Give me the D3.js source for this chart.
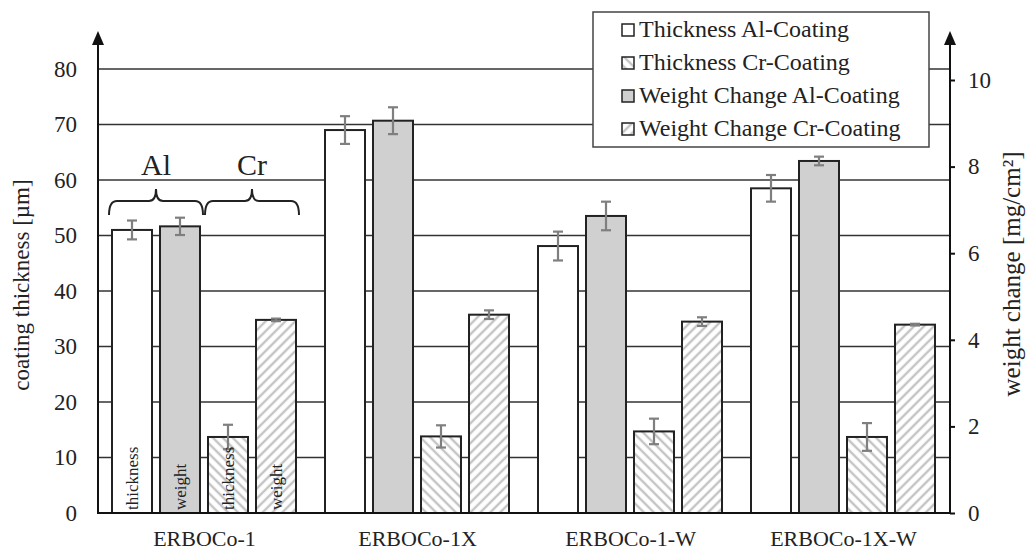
<!DOCTYPE html>
<html>
<head>
<meta charset="utf-8">
<script src="https://cdn.jsdelivr.net/npm/d3@7"></script>
<style>
  body { margin: 0; background: #fff; }
  text { font-family: "Liberation Serif", "Times New Roman", serif; fill: #222; }
</style>
</head>
<body>
<script>
// categories and series
const groups = ["ERBOCo-1", "ERBOCo-1X", "ERBOCo-1-W", "ERBOCo-1X-W"];
const seriesKeys = ["thickAl", "weightAl", "thickCr", "weightCr"];
const seriesNames = ["Thickness Al-Coating", "Thickness Cr-Coating", "Weight Change Al-Coating", "Weight Change Cr-Coating"];
const legendKeys = ["thickAl", "thickCr", "weightAl", "weightCr"];
const barLabels = ["thickness", "weight", "thickness", "weight"];
// coating thickness [µm] (left axis)
const thickAl = [51, 69, 48.1, 58.5];
const thickAlErr = [1.7, 2.5, 2.6, 2.4];
const thickCr = [13.7, 13.8, 14.7, 13.7];
const thickCrErr = [2.2, 2.0, 2.3, 2.5];
// weight change [mg/cm2] (right axis)
const weightAl = [6.62, 9.06, 6.86, 8.13];
const weightAlErr = [0.2, 0.31, 0.33, 0.1];
const weightCr = [4.46, 4.58, 4.42, 4.35];
const weightCrErr = [0.03, 0.1, 0.1, 0.02];
const leftTicks = [0, 10, 20, 30, 40, 50, 60, 70, 80];
const rightTicks = [0, 2, 4, 6, 8, 10];

const values = { thickAl, weightAl, thickCr, weightCr };
const errors = { thickAl: thickAlErr, weightAl: weightAlErr, thickCr: thickCrErr, weightCr: weightCrErr };

const width = 1031, height = 552;
const x0 = 98, x1 = 950, yBase = 513;

const svg = d3.select("body").append("svg")
    .attr("width", width)
    .attr("height", height);

// hatch patterns
const defs = svg.append("defs");
function hatch(id, angle) {
  const p = defs.append("pattern")
      .attr("id", id)
      .attr("patternUnits", "userSpaceOnUse")
      .attr("width", 7).attr("height", 7)
      .attr("patternTransform", "rotate(" + angle + ")");
  p.append("rect").attr("width", 7).attr("height", 7).attr("fill", "#fff");
  p.append("line").attr("x1", 2).attr("x2", 2).attr("y1", 0).attr("y2", 7)
      .attr("stroke", "#c4c4c4").attr("stroke-width", 2.4);
}
hatch("hatchBack", -45);
hatch("hatchFwd", 45);

const fills = { thickAl: "#fff", weightAl: "#cfd0cf", thickCr: "url(#hatchBack)", weightCr: "url(#hatchFwd)" };

const x = d3.scaleBand().domain(groups).range([x0, x1]);
const xInner = d3.scaleBand().domain(seriesKeys).range([14, 198]).paddingInner(1 / 6);
const yL = d3.scaleLinear().domain([0, 80]).range([yBase, 69]);
const yR = d3.scaleLinear().domain([0, 10]).range([yBase, 80]);
const yOf = k => k.startsWith("weight") ? yR : yL;

// gridlines
svg.append("g").selectAll("line")
    .data(leftTicks.filter(d => d > 0))
    .enter().append("line")
    .attr("x1", x0).attr("x2", x1)
    .attr("y1", d => yL(d)).attr("y2", d => yL(d))
    .attr("stroke", "#333").attr("stroke-width", 1.6);

// bars
const bars = [];
groups.forEach((g, i) => seriesKeys.forEach(k => bars.push({ g, i, k, v: values[k][i], e: errors[k][i] })));

svg.append("g").selectAll("rect")
    .data(bars)
    .enter().append("rect")
    .attr("x", d => x(d.g) + xInner(d.k))
    .attr("width", xInner.bandwidth())
    .attr("y", d => yOf(d.k)(d.v))
    .attr("height", d => yBase - yOf(d.k)(d.v))
    .attr("fill", d => fills[d.k])
    .attr("stroke", "#222")
    .attr("stroke-width", 2);

// error bars
const errG = svg.append("g").attr("stroke", "#7f7f7f").attr("stroke-width", 2.2);
bars.forEach(d => {
  const cx = x(d.g) + xInner(d.k) + xInner.bandwidth() / 2;
  const s = yOf(d.k);
  const top = s(d.v + d.e), bot = s(d.v - d.e);
  errG.append("line").attr("x1", cx).attr("x2", cx).attr("y1", top).attr("y2", bot);
  errG.append("line").attr("x1", cx - 5).attr("x2", cx + 5).attr("y1", top).attr("y2", top);
  errG.append("line").attr("x1", cx - 5).attr("x2", cx + 5).attr("y1", bot).attr("y2", bot);
});

// labels inside the first group's bars
seriesKeys.forEach((k, j) => {
  const cx = x(groups[0]) + xInner(k) + xInner.bandwidth() / 2;
  svg.append("text")
      .attr("transform", "translate(" + (cx + 6) + "," + (yBase - 3) + ") rotate(-90)")
      .attr("font-size", 17)
      .text(barLabels[j]);
});

// braces over the first group
function brace(a, b, yTip, yEnd) {
  const m = (a + b) / 2, yMid = yTip + 12;
  return "M" + a + "," + yEnd + " Q" + a + "," + yMid + " " + (a + 8) + "," + yMid
    + " L" + (m - 7) + "," + yMid + " Q" + m + "," + yMid + " " + m + "," + yTip
    + " Q" + m + "," + yMid + " " + (m + 7) + "," + yMid
    + " L" + (b - 8) + "," + yMid + " Q" + b + "," + yMid + " " + b + "," + yEnd;
}
const gx = x(groups[0]);
[["Al", "thickAl", "weightAl"], ["Cr", "thickCr", "weightCr"]].forEach(([lab, a, b]) => {
  const xa = gx + xInner(a) - 3, xb = gx + xInner(b) + xInner.bandwidth() + 3;
  svg.append("path").attr("d", brace(xa, xb, 189, 215))
      .attr("fill", "none").attr("stroke", "#222").attr("stroke-width", 2);
  svg.append("text").attr("x", (xa + xb) / 2).attr("y", 175)
      .attr("text-anchor", "middle").attr("font-size", 30).text(lab);
});

// axis lines and arrows
const axisG = svg.append("g").attr("stroke", "#111").attr("stroke-width", 2);
axisG.append("line").attr("x1", x0).attr("x2", x0).attr("y1", yBase + 1).attr("y2", 40);
axisG.append("line").attr("x1", x1).attr("x2", x1).attr("y1", yBase + 1).attr("y2", 40);
axisG.append("line").attr("x1", x0 - 1).attr("x2", x1 + 1).attr("y1", yBase).attr("y2", yBase);
[x0, x1].forEach(ax => {
  svg.append("path")
      .attr("d", "M" + (ax - 6) + ",45 L" + ax + ",31 L" + (ax + 6) + ",45 Z")
      .attr("fill", "#111");
});

const left = svg.append("g")
    .attr("transform", "translate(" + x0 + ",0)")
    .call(d3.axisLeft(yL).tickValues(leftTicks).tickSize(0).tickPadding(21));
left.select(".domain").remove();
left.selectAll("text").attr("font-size", 23).attr("font-family", "Liberation Serif").attr("fill", "#222");

const right = svg.append("g")
    .attr("transform", "translate(" + x1 + ",0)")
    .call(d3.axisRight(yR).tickValues(rightTicks).tickSize(5).tickPadding(13));
right.select(".domain").remove();
right.selectAll("line").attr("stroke", "#111").attr("stroke-width", 2);
right.selectAll("text").attr("font-size", 23).attr("font-family", "Liberation Serif").attr("fill", "#222");

const bottom = svg.append("g")
    .attr("transform", "translate(0," + yBase + ")")
    .call(d3.axisBottom(x).tickSize(0).tickPadding(17));
bottom.select(".domain").remove();
bottom.selectAll("text").attr("font-size", 22).attr("font-family", "Liberation Serif").attr("fill", "#222");

// axis titles
svg.append("text")
    .attr("transform", "translate(29,285) rotate(-90)")
    .attr("text-anchor", "middle").attr("font-size", 23)
    .text("coating thickness [µm]");
svg.append("text")
    .attr("transform", "translate(1020,274) rotate(-90)")
    .attr("text-anchor", "middle").attr("font-size", 25)
    .text("weight change [mg/cm²]");

// legend
const leg = svg.append("g");
leg.append("rect").attr("x", 593).attr("y", 12).attr("width", 336).attr("height", 135)
    .attr("fill", "#fff").attr("stroke", "#444").attr("stroke-width", 1.5);
legendKeys.forEach((k, j) => {
  const ly = 30 + j * 33;
  leg.append("rect").attr("x", 622).attr("y", ly - 6).attr("width", 12).attr("height", 12)
      .attr("fill", fills[k]).attr("stroke", "#222").attr("stroke-width", 1.5);
  leg.append("text").attr("x", 639).attr("y", ly + 7).attr("font-size", 24).text(seriesNames[j]);
});
</script>
</body>
</html>
